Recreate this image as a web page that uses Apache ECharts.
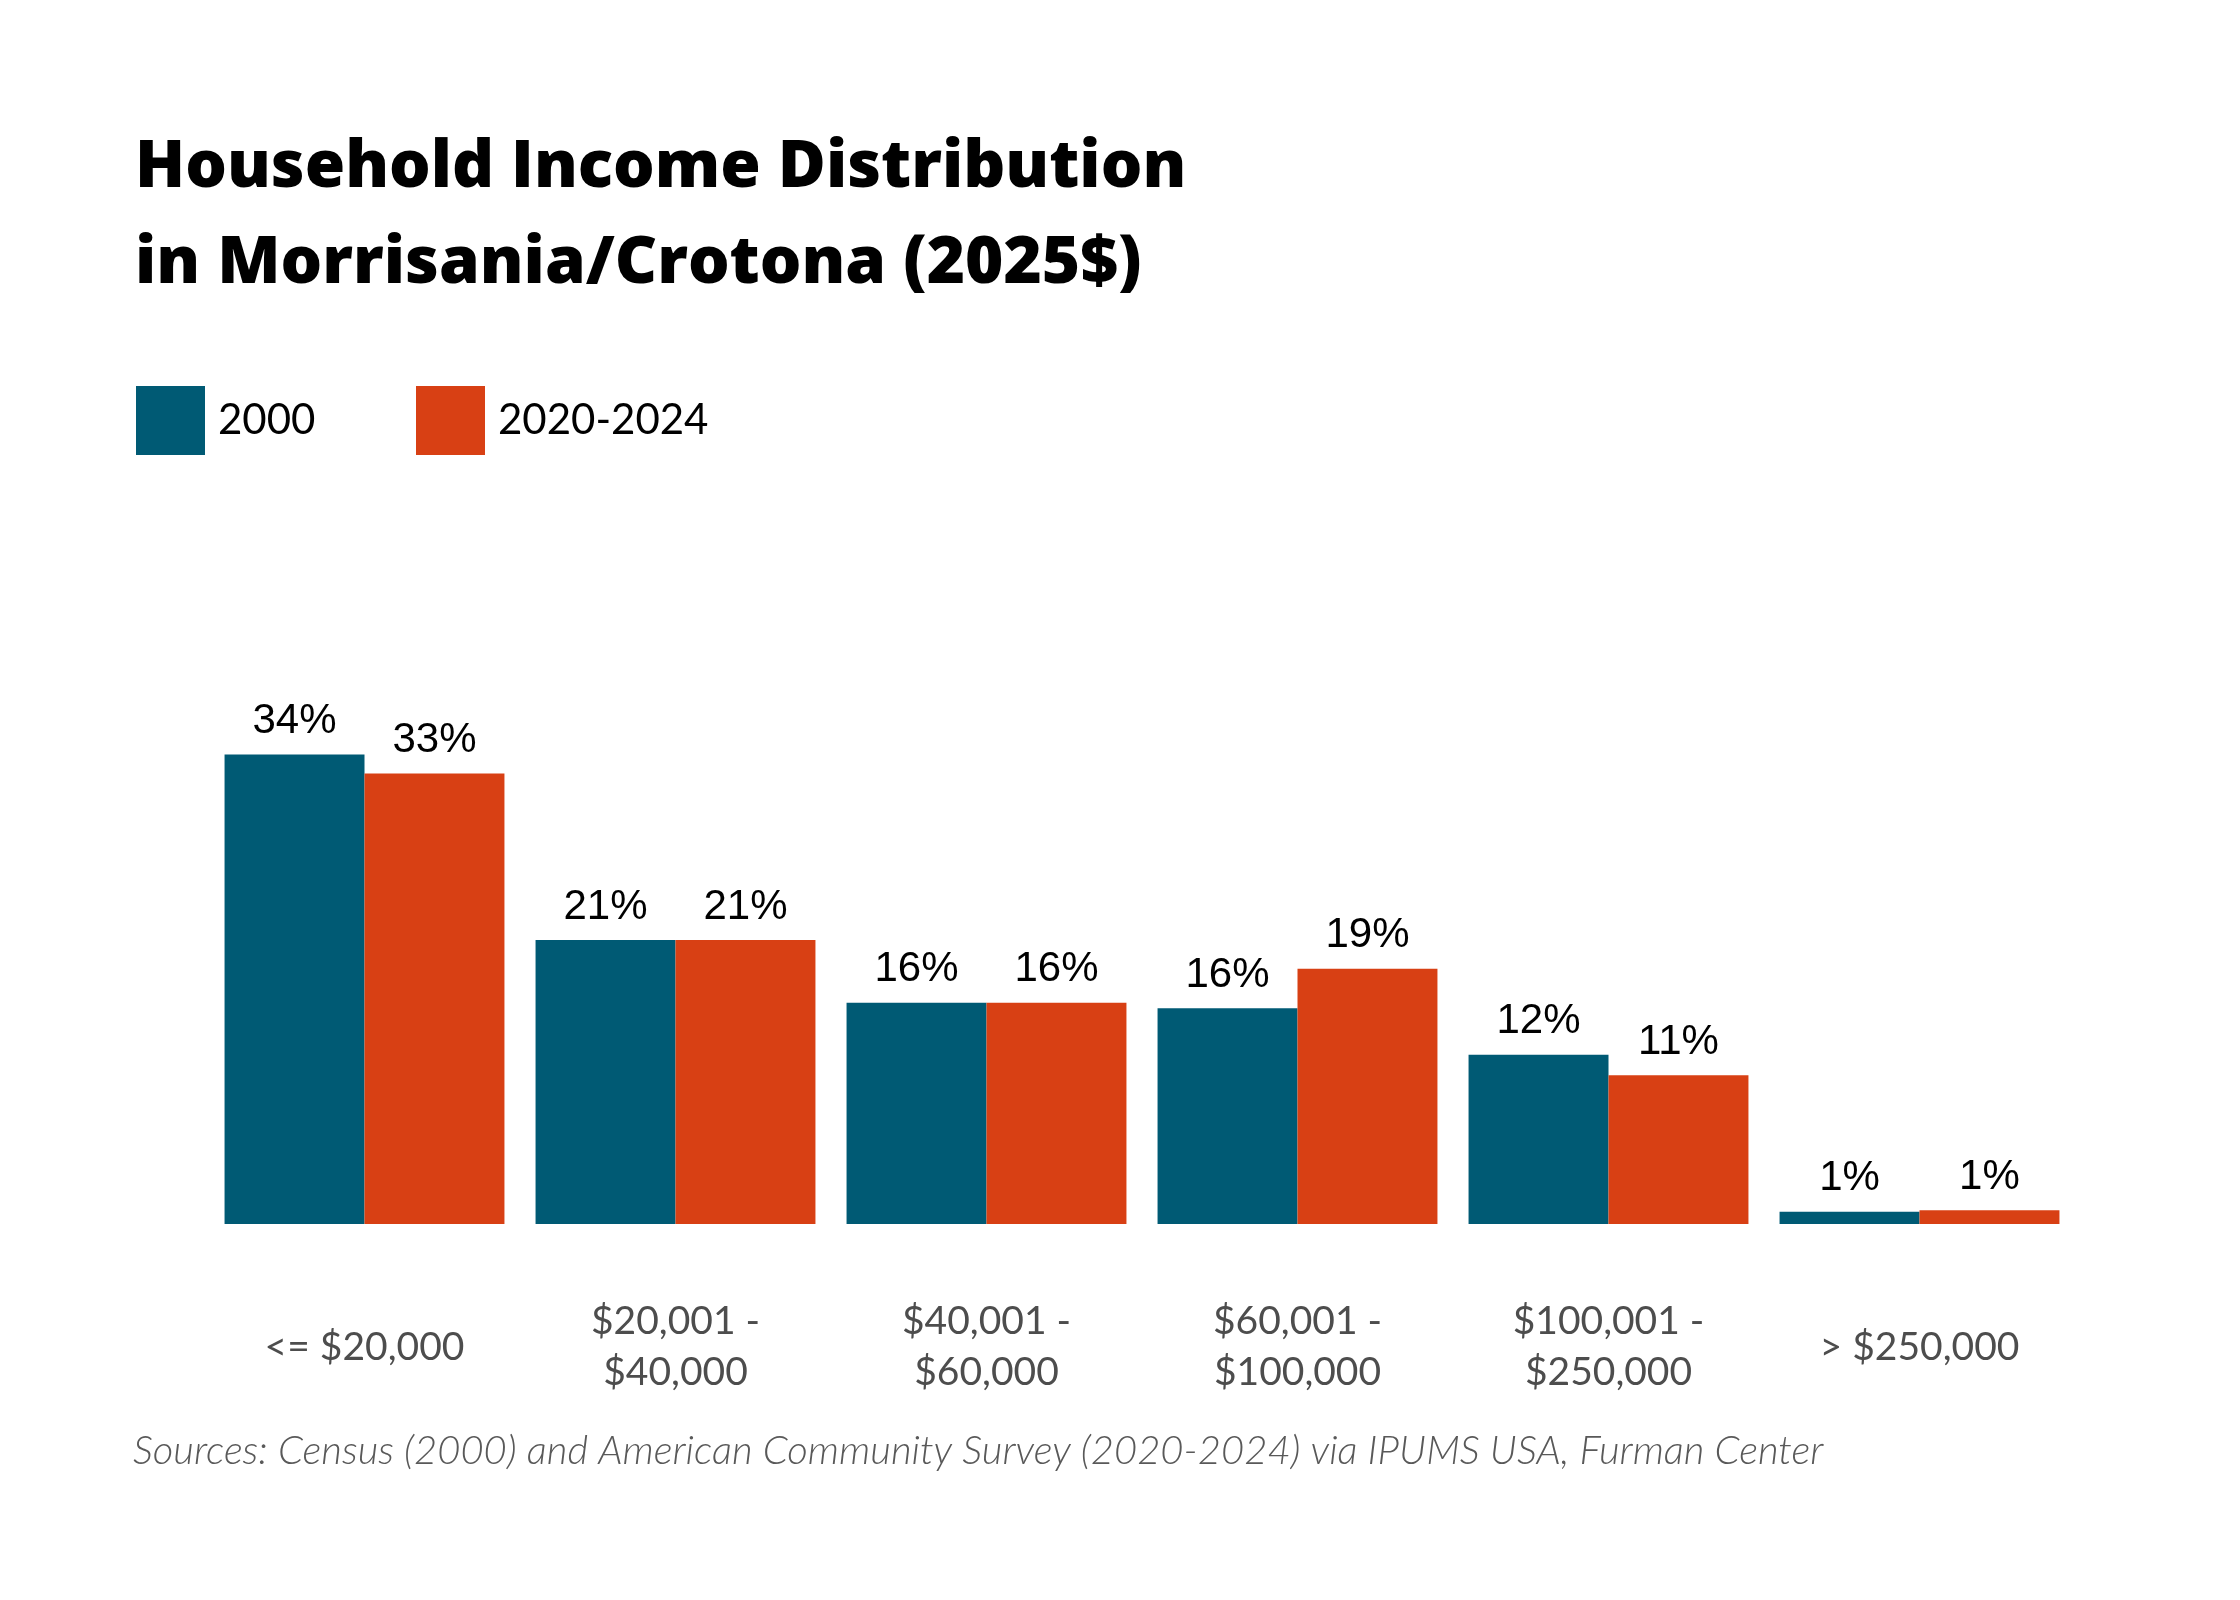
<!DOCTYPE html>
<html>
<head>
<meta charset="utf-8">
<script src="https://cdn.jsdelivr.net/npm/echarts@6/dist/echarts.min.js"></script>
<style>
html,body{margin:0;padding:0;background:#fff;}
#chart{width:2240px;height:1600px;}
</style>
</head>
<body>
<div id="chart"></div>
<script>
const categories = ['<= $20,000', '$20,001 -\n$40,000', '$40,001 -\n$60,000', '$60,001 -\n$100,000', '$100,001 -\n$250,000', '> $250,000'];
const seriesNames = ['2000', '2020-2024'];
const values2000 = [34.4, 20.8, 16.2, 15.8, 12.4, 0.9];
const values2020 = [33.0, 20.8, 16.2, 18.7, 10.9, 1.0];
const titleText = 'Household Income Distribution\nin Morrisania/Crotona (2025$)';
const sourceText = 'Sources: Census (2000) and American Community Survey (2020-2024) via IPUMS USA, Furman Center';

const chart = echarts.init(document.getElementById('chart'));
const labelStyle = {
  show: true,
  position: 'top',
  distance: 12,
  fontFamily: 'Liberation Sans',
  fontSize: 42,
  color: '#000',
  formatter: p => Math.round(p.value) + '%'
};
const legendBase = {
  top: 386,
  padding: 0,
  icon: 'rect',
  itemWidth: 69,
  itemHeight: 69,
  textStyle: {
    fontFamily: 'Lato',
    fontSize: 42,
    color: '#000',
    padding: [0, 0, 0, 8]
  }
};
chart.setOption({
  backgroundColor: '#fff',
  animation: false,
  title: {
    text: titleText,
    left: 130,
    top: 115,
    textStyle: {
      fontFamily: 'Open Sans',
      fontWeight: 800,
      fontSize: 65.5,
      lineHeight: 96,
      color: '#000'
    }
  },
  legend: [
    Object.assign({}, legendBase, { left: 136, data: [seriesNames[0]] }),
    Object.assign({}, legendBase, { left: 416, data: [seriesNames[1]] })
  ],
  grid: {
    left: 209,
    right: 165,
    top: 678,
    bottom: 376
  },
  xAxis: {
    type: 'category',
    data: categories,
    axisLine: { show: false },
    axisTick: { show: false },
    axisLabel: {
      margin: 123,
      verticalAlign: 'middle',
      fontFamily: 'Lato',
      fontSize: 39,
      lineHeight: 51,
      color: '#4d4d4d'
    }
  },
  yAxis: {
    type: 'value',
    min: 0,
    max: 40,
    show: false,
    splitLine: { show: false }
  },
  series: [
    {
      name: seriesNames[0],
      type: 'bar',
      data: values2000,
      barGap: '0%',
      barCategoryGap: '10%',
      itemStyle: { color: '#005A74' },
      label: labelStyle
    },
    {
      name: seriesNames[1],
      type: 'bar',
      data: values2020,
      barGap: '0%',
      barCategoryGap: '10%',
      itemStyle: { color: '#D84014' },
      label: labelStyle
    }
  ],
  graphic: [
    {
      type: 'text',
      left: 133,
      top: 1431,
      style: {
        text: sourceText,
        fontFamily: 'Lato',
        fontStyle: 'italic',
        fontWeight: 300,
        fontSize: 40,
        fill: '#595959'
      }
    }
  ]
});
</script>
</body>
</html>
